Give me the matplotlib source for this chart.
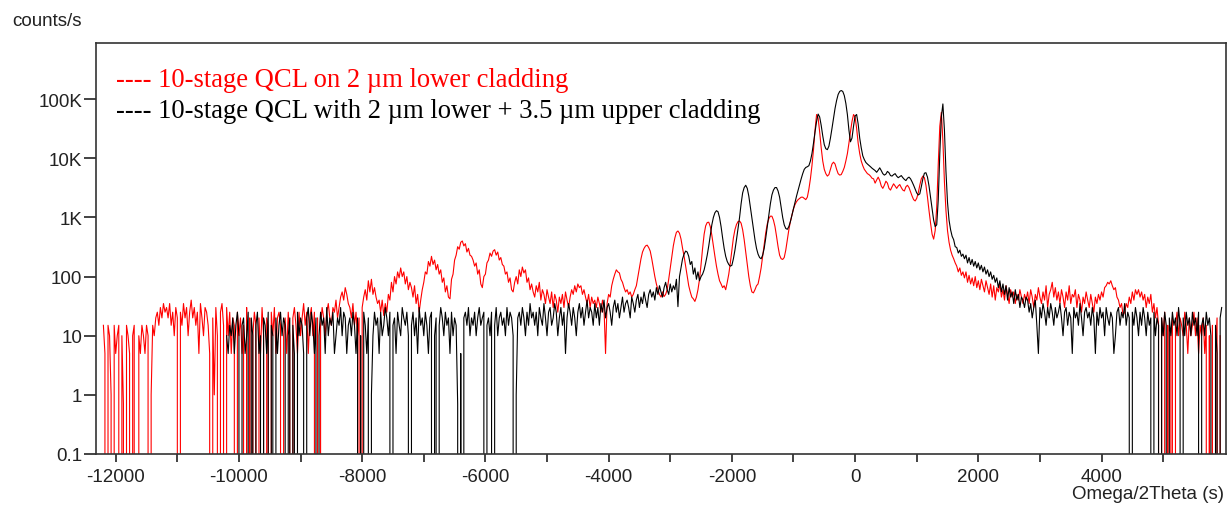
import numpy as np
import matplotlib
matplotlib.use('Agg')
import matplotlib.pyplot as plt
from matplotlib.ticker import FixedLocator, FixedFormatter, NullLocator

# Scan grid (s), 25 s steps
scan_step = 25
red_start = -12200
black_start = -10200

# 10-stage QCL on 2 um lower cladding (counts/s), one row per 1000 s from -12200 s
red_counts = [
    15, 5, 0, 15, 10, 1, 0, 15, 5, 10, 15, 0, 10, 0.7, 0, 15, 10, 5, 0, 10,
    15, 0, 0, 10, 5, 15, 10, 5, 15, 10, 0, 1, 15, 10, 20, 25, 15, 30, 20, 35,
    25, 30, 20, 35, 15, 25, 10, 30, 20, 0, 25, 15, 35, 20, 30, 10, 25, 40, 20, 30,
    15, 25, 5, 35, 20, 10, 30, 25, 15, 5, 0, 20, 1, 30, 10, 0, 25, 35, 15, 0,
    30, 10, 25, 5, 20, 15, 0, 25, 10, 20, 5, 15, 0, 30, 0, 20, 0, 10, 25, 15,
    0, 20, 5, 30, 10, 0, 20, 15, 0, 25, 10, 30, 5, 20, 25, 15, 0, 10, 20, 5,
    25, 10, 0, 20, 30, 15, 5, 25, 10, 20, 35, 15, 25, 5, 20, 30, 10, 25, 0, 20,
    0, 15, 30, 20, 10, 25, 35, 20, 15, 30, 25, 40, 20, 30, 45, 55, 40, 65, 50, 35,
    30, 20, 35, 15, 25, 10, 20, 0, 30, 45, 60, 40, 85, 55, 90, 50, 65, 45, 35, 40,
    25, 40, 22, 35, 25, 50, 40, 80, 55, 100, 75, 120, 95, 140, 100, 120, 75, 100, 60, 80,
    65, 45, 70, 35, 50, 25, 40, 60, 80, 120, 110, 180, 150, 220, 160, 190, 130, 160, 110, 130,
    80, 95, 55, 70, 45, 42, 90, 110, 190, 230, 320, 290, 380, 400, 330, 360, 260, 300, 230, 220,
    190, 150, 170, 110, 130, 75, 65, 100, 110, 170, 190, 250, 220, 270, 285, 230, 260, 190, 210, 160,
    150, 110, 120, 80, 95, 60, 55, 80, 100, 75, 130, 100, 145, 115, 130, 80, 95, 60, 75, 55,
    45, 70, 55, 80, 40, 60, 50, 35, 60, 45, 35, 55, 30, 50, 40, 25, 45, 35, 50, 30,
    55, 40, 30, 45, 60, 50, 70, 55, 75, 65, 70, 50, 60, 45, 35, 50, 30, 45, 35, 40,
    30, 45, 35, 25, 40, 30, 5, 35, 50, 45, 70, 90, 110, 130, 120, 115, 90, 80, 65, 55,
    60, 50, 55, 45, 50, 60, 70, 100, 140, 200, 260, 300, 330, 340, 310, 270, 200, 140, 100, 75,
    60, 50, 45, 55, 46, 50, 60, 90, 140, 220, 330, 450, 560, 590, 540, 430, 300, 220, 150, 100,
    70, 55, 45, 42, 38, 45, 60, 90, 160, 300, 520, 720, 820, 830, 700, 500, 330, 220, 150, 110,
    85, 75, 65, 70, 60, 80, 110, 170, 280, 450, 620, 760, 850, 870, 800, 620, 420, 260, 160, 100,
    70, 55, 53, 60, 70, 75, 100, 140, 220, 350, 550, 780, 950, 1050, 1050, 900, 700, 480, 320, 230,
    200, 195, 210, 280, 420, 620, 850, 1100, 1400, 1650, 1850, 2000, 2100, 2200, 2200, 2100, 2000, 2200, 3000, 4500,
    7500, 14000, 30000, 55000, 48000, 28000, 15000, 9000, 6500, 5500, 5000, 5300, 6500, 8000, 8600, 8000, 6500, 5500, 5200, 5300,
    6000, 7000, 9000, 12000, 18000, 28000, 42000, 55000, 50000, 32000, 18000, 12000, 9000, 7500, 6500, 6000, 5500, 5300, 5000, 4600,
    4500, 3800, 4300, 4800, 4200, 3400, 3100, 3500, 4100, 3800, 3100, 2900, 3300, 3700, 3400, 3100, 3400, 3600, 3200, 2900,
    2800, 3300, 3500, 3200, 2700, 2300, 2000, 1900, 2100, 2600, 3500, 4500, 5000, 4700, 3500, 2200, 1300, 800, 520, 430,
    600, 1500, 8000, 35000, 60000, 20000, 4000, 1300, 600, 380, 280, 230, 200, 170, 150, 120, 140, 105, 120, 95,
    120, 80, 105, 75, 95, 70, 100, 65, 85, 60, 90, 70, 55, 85, 65, 50, 75, 45, 70, 40,
    65, 55, 75, 45, 60, 40, 70, 50, 35, 60, 45, 55, 35, 50, 40, 60, 45, 35, 50, 40,
    55, 35, 60, 45, 30, 50, 40, 65, 45, 35, 55, 40, 70, 30, 50, 60, 80, 45, 65, 40,
    55, 35, 60, 45, 30, 55, 40, 70, 35, 50, 45, 60, 30, 50, 40, 25, 45, 35, 55, 40,
    30, 50, 35, 25, 45, 35, 50, 40, 55, 45, 65, 70, 80, 75, 85, 70, 60, 65, 45, 40,
    30, 35, 22, 25, 35, 30, 45, 35, 55, 40, 60, 50, 60, 45, 55, 40, 50, 30, 45, 35,
    50, 25, 35, 20, 30, 15, 0, 20, 10, 25, 0, 15, 0, 10, 20, 0, 15, 25, 10, 20,
    15, 10, 25, 15, 5, 20, 10, 15, 25, 10, 20, 5, 15, 10, 20, 5, 15, 0, 10, 0,
    15, 0, 5, 20, 0, 10,
]

# 10-stage QCL with 2 um lower + 3.5 um upper cladding (counts/s), one row per 1000 s from -10200 s
black_counts = [
    10, 5, 15, 10, 20, 5, 15, 25, 10, 0, 15, 20, 5, 10, 25, 0, 20, 10, 0, 15,
    25, 5, 10, 0, 20, 15, 5, 25, 0, 15, 10, 0, 20, 5, 15, 25, 10, 20, 15, 0,
    10, 20, 0, 15, 5, 0, 25, 10, 20, 15, 5, 0, 20, 30, 10, 25, 15, 5, 20, 0,
    10, 25, 15, 20, 5, 30, 10, 20, 15, 25, 5, 10, 20, 15, 30, 10, 25, 20, 5, 15,
    20, 10, 25, 15, 5, 20, 0, 10, 0, 25, 15, 5, 20, 0, 1, 10, 25, 15, 20, 5,
    25, 10, 15, 30, 20, 10, 25, 0, 15, 20, 5, 25, 15, 10, 30, 20, 15, 25, 10, 0,
    15, 25, 10, 20, 5, 30, 15, 20, 10, 25, 15, 5, 20, 25, 0, 10, 20, 0, 15, 30,
    20, 10, 25, 15, 20, 5, 25, 10, 20, 15, 0.7, 0, 5, 0, 20, 25, 15, 30, 10, 20,
    15, 25, 10, 20, 30, 15, 20, 25, 0, 15, 20, 10, 25, 0, 15, 30, 10, 20, 25, 15,
    20, 10, 30, 15, 25, 20, 10, 0, 1, 20, 25, 15, 30, 20, 10, 25, 15, 35, 20, 25,
    15, 25, 10, 30, 20, 15, 35, 20, 10, 25, 30, 15, 20, 35, 25, 10, 20, 30, 15, 25,
    5, 20, 35, 25, 15, 30, 20, 10, 25, 35, 20, 30, 15, 25, 40, 20, 30, 25, 15, 35,
    20, 30, 15, 35, 25, 40, 20, 30, 35, 25, 15, 30, 40, 25, 35, 20, 30, 45, 25, 35,
    40, 30, 20, 45, 35, 25, 40, 50, 30, 45, 35, 55, 40, 30, 50, 60, 45, 55, 40, 65,
    50, 70, 55, 45, 65, 80, 60, 50, 75, 55, 70, 60, 90, 31, 100, 140, 200, 240, 270, 260,
    220, 160, 180, 110, 140, 90, 120, 85, 100, 110, 130, 170, 230, 330, 500, 750, 1000, 1200, 1300, 1250,
    1000, 700, 450, 300, 220, 180, 160, 150, 155, 200, 280, 420, 650, 1000, 1700, 2600, 3200, 3500, 3100, 2300,
    1500, 1000, 650, 420, 300, 240, 210, 200, 230, 300, 450, 700, 1100, 1700, 2400, 2900, 3200, 3200, 2800, 2200,
    1500, 1000, 750, 650, 630, 700, 850, 1100, 1400, 1800, 2300, 2900, 3600, 4500, 5500, 6500, 7000, 7200, 7500, 9000,
    12000, 18000, 28000, 42000, 56000, 50000, 36000, 24000, 17000, 14500, 14000, 16000, 22000, 32000, 48000, 70000, 95000, 120000, 135000, 140000,
    135000, 115000, 85000, 55000, 30000, 19000, 22000, 35000, 52000, 55000, 38000, 22000, 15000, 11000, 9500, 8500, 8000, 7600, 7200, 6800,
    6500, 6200, 5800, 6300, 6900, 6200, 5500, 5200, 5400, 6000, 5700, 5100, 5000, 5300, 5500, 5000, 4700, 4900, 5100, 4700,
    4400, 4200, 4600, 4800, 4500, 4000, 3500, 3000, 2600, 2400, 2500, 3300, 4500, 5600, 5700, 4800, 3400, 2200, 1400, 900,
    700, 750, 2000, 12000, 50000, 83000, 30000, 6000, 1800, 900, 620, 480, 420, 320, 310, 250, 280, 220, 240, 200,
    230, 170, 210, 160, 195, 150, 180, 140, 170, 130, 155, 120, 145, 110, 130, 100, 120, 90, 105, 80,
    95, 65, 85, 55, 75, 50, 70, 40, 65, 45, 55, 35, 60, 40, 50, 30, 45, 40, 30, 45,
    40, 25, 35, 20, 30, 40, 15, 5, 30, 20, 35, 25, 15, 30, 20, 35, 25, 15, 30, 20,
    25, 35, 20, 10, 25, 30, 15, 25, 20, 5, 30, 20, 25, 15, 35, 20, 10, 25, 30, 20,
    25, 15, 30, 20, 5, 25, 15, 30, 20, 25, 10, 30, 20, 15, 25, 20, 5, 10, 25, 30,
    15, 25, 20, 35, 15, 25, 20, 0, 25, 15, 30, 20, 10, 25, 15, 30, 20, 10, 25, 15,
    20, 0, 25, 10, 20, 15, 0, 20, 10, 25, 15, 0, 20, 10, 25, 15, 20, 10, 30, 15,
    0, 20, 10, 25, 15, 20, 10, 25, 15, 20, 10, 25, 0, 15, 20, 10, 25, 15, 20, 10,
    0, 0, 15, 5, 0, 20, 30,
]

x_major = [-12000, -10000, -8000, -6000, -4000, -2000, 0, 2000, 4000]
x_minor = [-11000, -9000, -7000, -5000, -3000, -1000, 1000, 3000, 5000]
y_ticks = [0.1, 1, 10, 100, 1e3, 1e4, 1e5]
y_tick_labels = ['0.1', '1', '10', '100', '1K', '10K', '100K']

legend_red = '---- 10-stage QCL on 2 \u00b5m lower cladding'
legend_black = '---- 10-stage QCL with 2 \u00b5m lower + 3.5 \u00b5m upper cladding'


def main():
    red_x = red_start + scan_step * np.arange(len(red_counts))
    black_x = black_start + scan_step * np.arange(len(black_counts))

    plt.rcParams['font.family'] = ['Liberation Sans', 'DejaVu Sans']
    plt.rcParams['axes.unicode_minus'] = False

    fig = plt.figure(figsize=(12.3, 5.06), dpi=100)
    ax = fig.add_axes([96 / 1230, 51 / 506, 1130 / 1230, 411 / 506])

    ax.plot(red_x, red_counts, color='#ff0000', linewidth=0.8)
    ax.plot(black_x, black_counts, color='#000000', linewidth=0.8)

    ax.set_yscale('log', nonpositive='clip')
    ax.set_ylim(0.1, 8.9e5)
    ax.set_xlim(-12320, 6020)

    # Axis ticks
    ax.yaxis.set_major_locator(FixedLocator(y_ticks))
    ax.yaxis.set_major_formatter(FixedFormatter(y_tick_labels))
    ax.yaxis.set_minor_locator(NullLocator())
    ax.xaxis.set_major_locator(FixedLocator(x_major))
    ax.xaxis.set_major_formatter(FixedFormatter([str(v) for v in x_major]))
    ax.xaxis.set_minor_locator(FixedLocator(x_minor))
    ax.tick_params(axis='y', which='both', direction='out', length=9, width=1.2,
                   labelsize=13.5, pad=1, colors='#222222')
    ax.tick_params(axis='x', which='both', direction='out', length=6, width=1.2,
                   labelsize=13.5, pad=4, colors='#222222')
    for sp in ax.spines.values():
        sp.set_linewidth(1.2)
        sp.set_color('#333333')

    # Axis titles
    fig.text(12 / 1230, 1 - 22 / 506, 'counts/s', fontsize=13.5, ha='left', va='center', color='#222222')
    fig.text(1224 / 1230, 1 - 495 / 506, 'Omega/2Theta (s)', fontsize=13.5, ha='right', va='center',
             color='#222222')

    # Legend written as plain text
    fig.text(116 / 1230, 1 - 87 / 506, legend_red, fontsize=19.2, family='Liberation Serif',
             color='#ff0000', ha='left', va='baseline')
    fig.text(116 / 1230, 1 - 118 / 506, legend_black, fontsize=19.2, family='Liberation Serif',
             color='#000000', ha='left', va='baseline')

    fig.savefig('out.png', dpi=100)


if __name__ == '__main__':
    main()
